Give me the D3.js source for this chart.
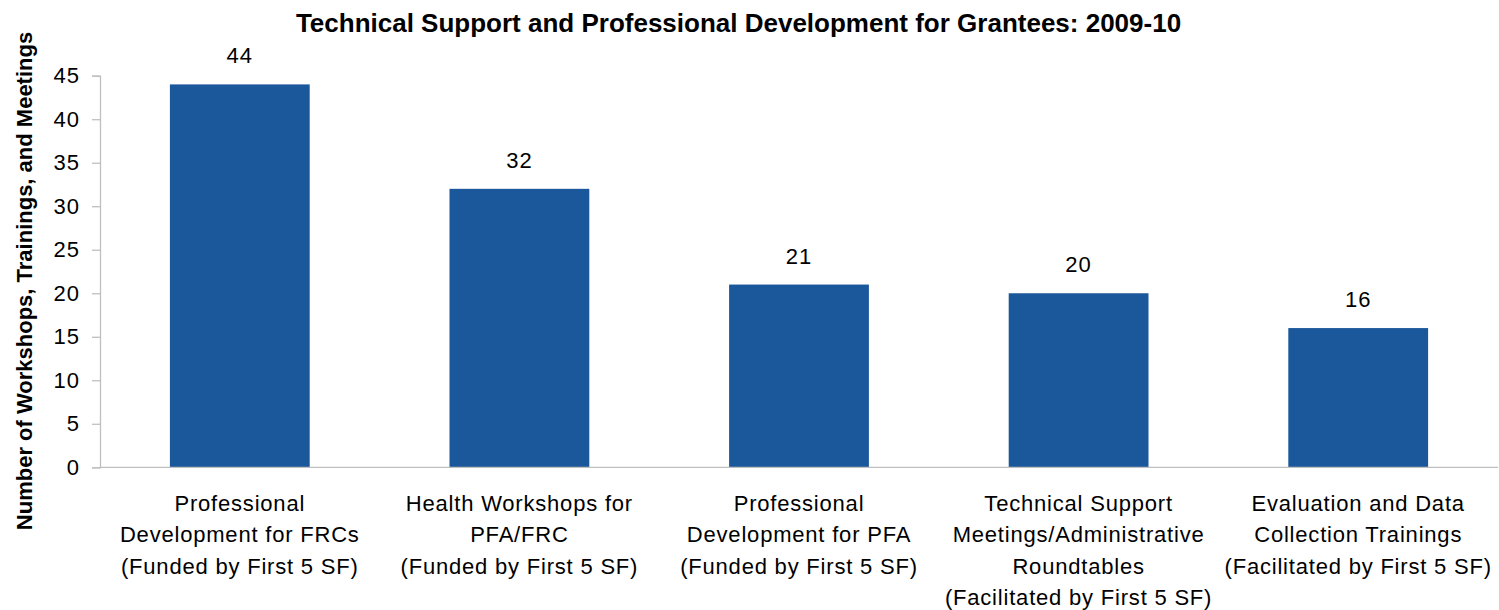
<!DOCTYPE html>
<html>
<head>
<meta charset="utf-8">
<script src="https://cdn.jsdelivr.net/npm/d3@7"></script>
<style>
  body { margin: 0; background: #fff; }
  svg { display: block; font-family: "Liberation Sans", Arial, sans-serif; }
</style>
</head>
<body>
<svg width="1499" height="610"></svg>
<script>
// chart data
var categories = [
  ["Professional", "Development for FRCs", "(Funded by First 5 SF)"],
  ["Health Workshops for", "PFA/FRC", "(Funded by First 5 SF)"],
  ["Professional", "Development for PFA", "(Funded by First 5 SF)"],
  ["Technical Support", "Meetings/Administrative", "Roundtables", "(Facilitated by First 5 SF)"],
  ["Evaluation and Data", "Collection Trainings", "(Facilitated by First 5 SF)"]
];
var values = [44, 32, 21, 20, 16];
var yTicks = [0, 5, 10, 15, 20, 25, 30, 35, 40, 45];
var title = "Technical Support and Professional Development for Grantees: 2009-10";
var yLabel = "Number of Workshops, Trainings, and Meetings";

var svg = d3.select("svg");
// plot area edges (note: "top" is reserved on window, so use other names)
var plotLeft = 100, plotRight = 1498, plotTop = 75.7, plotBottom = 467.3;

var x = d3.scaleBand()
    .domain(d3.range(values.length))
    .range([plotLeft, plotRight])
    .paddingInner(0.5)
    .paddingOuter(0.25);

var y = d3.scaleLinear()
    .domain([0, 45])
    .range([plotBottom, plotTop]);

// title
svg.append("text")
    .attr("x", 738.5)
    .attr("y", 32)
    .attr("text-anchor", "middle")
    .style("font-weight", "bold")
    .style("font-size", "26px")
    .text(title);

// y axis label
svg.append("text")
    .attr("transform", "translate(32,281) rotate(-90)")
    .attr("text-anchor", "middle")
    .style("font-weight", "bold")
    .style("font-size", "22px")
    .text(yLabel);

// bars
svg.append("g")
  .selectAll("rect")
  .data(values)
  .enter().append("rect")
    .attr("x", function(d, i) { return x(i); })
    .attr("y", function(d) { return y(d); })
    .attr("width", x.bandwidth())
    .attr("height", function(d) { return y(0) - y(d); })
    .attr("fill", "#1B579B");

// value labels
svg.append("g")
  .selectAll("text")
  .data(values)
  .enter().append("text")
    .attr("x", function(d, i) { return x(i) + x.bandwidth() / 2; })
    .attr("y", function(d) { return y(d) - 21; })
    .attr("text-anchor", "middle")
    .style("font-size", "22px")
    .style("letter-spacing", "1px")
    .text(function(d) { return d; });

// y axis
var yAxis = svg.append("g")
    .attr("transform", "translate(" + plotLeft + ",0)")
    .call(d3.axisLeft(y).tickValues(yTicks).tickSize(8).tickPadding(12));
yAxis.select(".domain").attr("stroke", "#BFBFBF").attr("stroke-width", 1.3);
yAxis.selectAll(".tick line").attr("stroke", "#BFBFBF").attr("stroke-width", 1.3);
yAxis.selectAll(".tick text")
    .style("font-size", "22px")
    .style("letter-spacing", "1px")
    .attr("fill", "#000");

// x axis baseline
svg.append("line")
    .attr("x1", plotLeft).attr("x2", plotRight)
    .attr("y1", y(0)).attr("y2", y(0))
    .attr("stroke", "#BFBFBF")
    .attr("stroke-width", 1.3);

// category labels
var catLabels = svg.append("g")
  .selectAll("text")
  .data(categories)
  .enter().append("text")
    .attr("x", function(d, i) { return x(i) + x.bandwidth() / 2; })
    .attr("y", 510.7)
    .attr("text-anchor", "middle")
    .style("font-size", "22px")
    .style("letter-spacing", "0.8px");

catLabels.selectAll("tspan")
  .data(function(d) { return d; })
  .enter().append("tspan")
    .attr("x", function() { return d3.select(this.parentNode).attr("x"); })
    .attr("dy", function(d, i) { return i === 0 ? 0 : 31.5; })
    .text(function(d) { return d; });
</script>
</body>
</html>
